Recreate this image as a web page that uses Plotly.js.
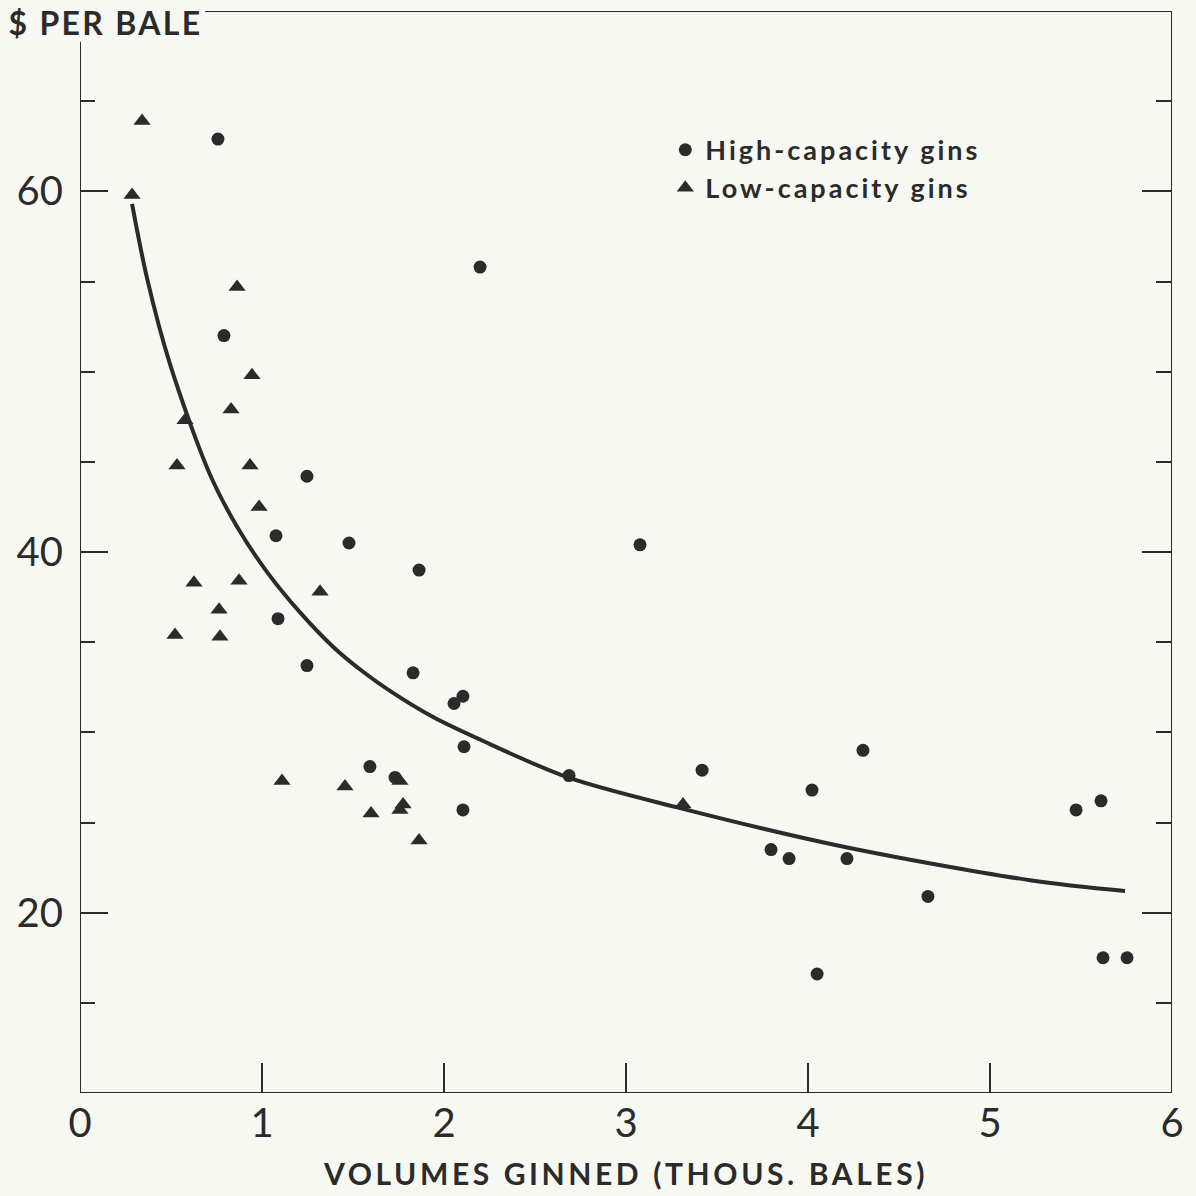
<!DOCTYPE html>
<html>
<head>
<meta charset="utf-8">
<script src="https://cdn.plot.ly/plotly-3.0.1.min.js"></script>
<style>
  html, body { margin: 0; padding: 0; background: #f8f8f3; }
  #chart { width: 1196px; height: 1196px; }
  #chart .g-xtitle text { letter-spacing: 3.6px; }
  #chart .annotation-text { letter-spacing: 2.3px; }
  #chart .legendtext { letter-spacing: 3px; }
  #chart .legend .scrollbox { clip-path: none !important; }
</style>
</head>
<body>
<div id="chart"></div>
<script>
// High-capacity gins (circles): volume (thousand bales), cost ($ per bale)
const highX = [0.758, 0.791, 2.198, 1.247, 1.077, 1.478, 1.863, 3.077, 1.088, 1.247,
               1.830, 2.055, 2.104, 2.110, 1.593, 1.731, 2.104, 2.687, 3.418, 4.302,
               4.022, 3.797, 3.896, 4.214, 4.659, 4.050, 5.473, 5.610, 5.621, 5.753];
const highY = [62.9, 52.0, 55.8, 44.2, 40.9, 40.5, 39.0, 40.4, 36.3, 33.7,
               33.3, 31.6, 32.0, 29.2, 28.1, 27.5, 25.7, 27.6, 27.9, 29.0,
               26.8, 23.5, 23.0, 23.0, 20.9, 16.6, 25.7, 26.2, 17.5, 17.5];

// Low-capacity gins (triangles)
const lowX = [0.341, 0.286, 0.863, 0.945, 0.830, 0.577, 0.533, 0.934, 0.984, 0.626,
              0.874, 1.319, 0.764, 0.522, 0.769, 1.110, 1.456, 1.599, 1.758, 1.758,
              1.775, 1.863, 3.313];
const lowY = [63.9, 59.8, 54.7, 49.8, 47.9, 47.3, 44.8, 44.8, 42.5, 38.3,
              38.4, 37.8, 36.8, 35.4, 35.3, 27.3, 27.0, 25.5, 27.3, 25.7,
              26.0, 24.0, 26.0];

// Fitted curve
const curveX = [0.286, 0.368, 0.495, 0.714, 0.863, 1.027, 1.209, 1.390, 1.550, 1.703,
                1.940, 2.198, 2.681, 3.297, 4.176, 5.220, 5.742];
const curveY = [59.3, 55.2, 50.4, 44.3, 41.4, 38.9, 36.65, 34.75, 33.4, 32.3,
                30.85, 29.6, 27.5, 25.8, 23.7, 21.8, 21.2];

const xTicks = [0, 1, 2, 3, 4, 5, 6];
const yMajor = [20, 40, 60];
const yMinor = [15, 25, 30, 35, 45, 50, 55, 65];

const ink = '#2b2b2b';
const font = 'Lato, "Open Sans", "DejaVu Sans", sans-serif';

const traces = [
  {
    x: curveX, y: curveY, type: 'scatter', mode: 'lines',
    line: { color: ink, width: 4, shape: 'spline', smoothing: 0.9 },
    showlegend: false, hoverinfo: 'skip'
  },
  {
    x: highX, y: highY, type: 'scatter', mode: 'markers',
    name: 'High-capacity gins',
    marker: { symbol: 'circle', size: 13, color: ink }
  },
  {
    x: lowX, y: lowY, type: 'scatter', mode: 'markers',
    name: 'Low-capacity gins',
    marker: { symbol: 'triangle-up', size: 15, color: ink }
  },
  {
    x: [null], y: [null], yaxis: 'y2', type: 'scatter', mode: 'markers',
    showlegend: false, hoverinfo: 'skip'
  }
];

const layout = {
  width: 1196, height: 1196,
  paper_bgcolor: '#f8f8f3', plot_bgcolor: '#f8f8f3',
  margin: { l: 80, r: 24, t: 11, b: 103 },
  font: { family: font, color: ink },
  showlegend: true,
  legend: {
    x: 0.536, y: 0.894, xanchor: 'left', yanchor: 'top',
    bgcolor: 'rgba(0,0,0,0)', borderwidth: 0,
    font: { family: font, size: 27, color: ink, weight: 'bold' },
    itemsizing: 'trace', tracegroupgap: 0
  },
  xaxis: {
    range: [0, 6], tickvals: xTicks, ticktext: xTicks.map(String),
    ticks: 'inside', ticklen: 30, tickwidth: 2, tickcolor: ink,
    showline: false, showgrid: false, zeroline: false,
    tickfont: { family: font, size: 40, color: ink },
    ticklabelstandoff: 3,
    title: {
      text: 'VOLUMES GINNED (THOUS. BALES)',
      font: { family: font, size: 30, color: ink, weight: 'bold' },
      standoff: 18
    }
  },
  yaxis: {
    range: [10, 70], tickvals: yMajor, ticktext: yMajor.map(String),
    ticks: 'inside', ticklen: 28, tickwidth: 2, tickcolor: ink,
    minor: { tickmode: 'array', tickvals: yMinor, ticks: 'inside', ticklen: 15, tickwidth: 2, tickcolor: ink },
    showline: false, showgrid: false, zeroline: false,
    tickfont: { family: font, size: 40, color: ink },
    ticklabelstandoff: 16
  },
  yaxis2: {
    range: [10, 70], overlaying: 'y', side: 'right', anchor: 'x',
    tickvals: yMajor, showticklabels: false,
    ticks: 'inside', ticklen: 30, tickwidth: 2, tickcolor: ink,
    minor: { tickmode: 'array', tickvals: yMinor, ticks: 'inside', ticklen: 16, tickwidth: 2, tickcolor: ink },
    showline: false, showgrid: false, zeroline: false
  },
  shapes: [
    { type: 'line', xref: 'x', yref: 'y', x0: 0.687, x1: 6, y0: 70, y1: 70, line: { color: ink, width: 2 } },
    { type: 'line', xref: 'x', yref: 'y', x0: 6, x1: 6, y0: 10, y1: 70, line: { color: ink, width: 2 } },
    { type: 'line', xref: 'x', yref: 'y', x0: 0, x1: 0, y0: 10, y1: 68.3, line: { color: ink, width: 2 } },
    { type: 'line', xref: 'x', yref: 'y', x0: 0, x1: 6, y0: 10, y1: 10, line: { color: ink, width: 2 } }
  ],
  annotations: [
    {
      text: '$ PER BALE', xref: 'paper', yref: 'paper',
      x: 0.0229, y: 0.989, xanchor: 'center', yanchor: 'middle', showarrow: false,
      font: { family: font, size: 32, color: ink, weight: 'bold' }
    }
  ]
};

Plotly.newPlot('chart', traces, layout, { displayModeBar: false, staticPlot: true });
</script>
</body>
</html>
